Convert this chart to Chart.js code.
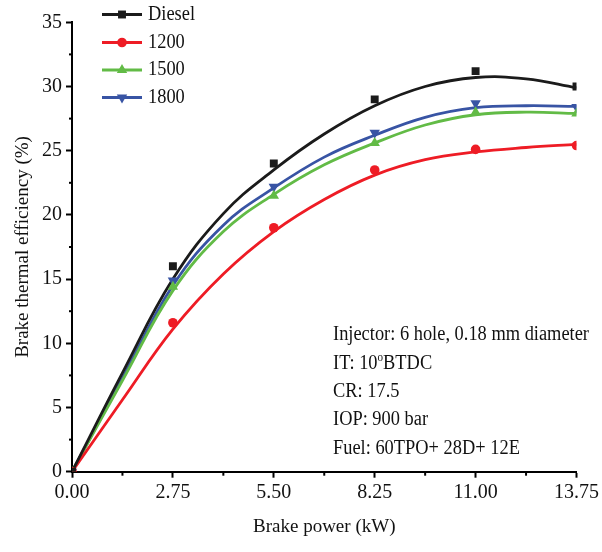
<!DOCTYPE html>
<html>
<head>
<meta charset="utf-8">
<script src="https://cdn.jsdelivr.net/npm/chart.js@4.4.1/dist/chart.umd.min.js"></script>
<style>
  html, body { margin: 0; padding: 0; background: #fff; }
  canvas { display: block; }
</style>
</head>
<body>
<canvas id="chart" width="602" height="552"></canvas>
<script>
// measured points
const brakePower = [0, 2.75, 5.5, 8.25, 11, 13.75];
const btDiesel = [0, 16.0, 24.0, 29.0, 31.2, 30.0];
const bt1200 = [0, 11.6, 19.0, 23.5, 25.1, 25.4];
const bt1500 = [0, 14.4, 21.5, 25.6, 28.0, 27.9];
const bt1800 = [0, 14.9, 22.2, 26.4, 28.7, 28.4];

// fitted curves
const fitPower = [0, 1.375, 2.75, 4.125, 5.5, 6.875, 8.25, 9.625, 11, 12.375, 13.75];
const fitDiesel = [0, 7.7, 15.0, 20.1, 23.5, 26.3, 28.5, 30.0, 30.7, 30.6, 29.9];
const fit1200 = [0, 5.6, 11.1, 15.4, 18.7, 21.2, 23.1, 24.3, 24.9, 25.25, 25.5];
const fit1500 = [0, 7.1, 14.1, 18.7, 21.6, 23.9, 25.6, 27.0, 27.8, 28.0, 27.9];
const fit1800 = [0, 7.3, 14.5, 19.2, 22.1, 24.5, 26.2, 27.6, 28.35, 28.5, 28.45];

const xTicks = [0, 2.75, 5.5, 8.25, 11, 13.75];
const yTicks = [0, 5, 10, 15, 20, 25, 30, 35];

const seriesNames = ['Diesel', '1200', '1500', '1800'];
const seriesColors = ['#1b1b1b', '#ee1c25', '#62bb46', '#3854a4'];
const seriesMarkers = ['rect', 'circle', 'triangle', 'triangle'];
const markerRotation = [0, 0, 0, 180];
const markerRadius = [5.6, 4.8, 6, 6];

const infoLines = ['Injector: 6 hole, 0.18 mm diameter', 'IT: 10', 'CR: 17.5', 'IOP: 900 bar', 'Fuel: 60TPO+ 28D+ 12E'];

const FONT = '"Liberation Serif", "Times New Roman", serif';
const INK = '#111';
const pts = (xs, ys) => xs.map((x, i) => ({ x: x, y: ys[i] }));

const measured = [btDiesel, bt1200, bt1500, bt1800];
const fits = [fitDiesel, fit1200, fit1500, fit1800];

const datasets = [];
measured.forEach((vals, i) => {
  datasets.push({
    type: 'scatter',
    label: seriesNames[i],
    data: pts(brakePower, vals),
    pointStyle: seriesMarkers[i],
    rotation: markerRotation[i],
    pointRadius: markerRadius[i],
    backgroundColor: seriesColors[i],
    borderColor: seriesColors[i],
    borderWidth: 0,
    showLine: false,
    order: 0
  });
});
fits.forEach((vals, i) => {
  datasets.push({
    type: 'line',
    label: seriesNames[i] + ' fit',
    data: pts(fitPower, vals),
    borderColor: seriesColors[i],
    borderWidth: 2.8,
    pointRadius: 0,
    tension: 0.4,
    fill: false,
    order: 1
  });
});

function drawMarker(ctx, style, x, y, r, rot, color) {
  ctx.save();
  ctx.fillStyle = color;
  ctx.translate(x, y);
  ctx.rotate(rot * Math.PI / 180);
  ctx.beginPath();
  if (style === 'rect') {
    const s = Math.SQRT1_2 * r;
    ctx.rect(-s, -s, 2 * s, 2 * s);
  } else if (style === 'circle') {
    ctx.arc(0, 0, r, 0, Math.PI * 2);
  } else {
    ctx.moveTo(0, -r);
    ctx.lineTo(r * Math.sin(Math.PI / 3), r * 0.5);
    ctx.lineTo(-r * Math.sin(Math.PI / 3), r * 0.5);
    ctx.closePath();
  }
  ctx.fill();
  ctx.restore();
}

// condensed serif text, like the figure
function text(ctx, str, x, y, size) {
  ctx.save();
  ctx.font = size + 'px ' + FONT;
  ctx.textBaseline = 'middle';
  ctx.textAlign = 'left';
  ctx.fillStyle = INK;
  ctx.translate(x, y);
  ctx.scale(0.92, 1);
  ctx.fillText(str, 0, 0);
  const w = ctx.measureText(str).width * 0.92;
  ctx.restore();
  return w;
}

const extras = {
  id: 'extras',
  afterDraw(chart) {
    const ctx = chart.ctx;
    const xs = chart.scales.x, ys = chart.scales.y;
    const area = chart.chartArea;

    // minor ticks
    ctx.save();
    ctx.strokeStyle = '#000';
    ctx.lineWidth = 2;
    for (let v = 2.5; v < 35; v += 5) {
      const py = ys.getPixelForValue(v);
      ctx.beginPath(); ctx.moveTo(area.left - 3, py); ctx.lineTo(area.left, py); ctx.stroke();
    }
    for (let i = 0; i < xTicks.length - 1; i++) {
      const px = xs.getPixelForValue((xTicks[i] + xTicks[i + 1]) / 2);
      ctx.beginPath(); ctx.moveTo(px, area.bottom); ctx.lineTo(px, area.bottom + 4); ctx.stroke();
    }
    ctx.restore();

    // legend
    const legendY = [14.5, 42.5, 70, 97.5];
    seriesNames.forEach((name, i) => {
      ctx.save();
      ctx.strokeStyle = seriesColors[i];
      ctx.lineWidth = 2.8;
      ctx.beginPath(); ctx.moveTo(102, legendY[i]); ctx.lineTo(142, legendY[i]); ctx.stroke();
      ctx.restore();
      drawMarker(ctx, seriesMarkers[i], 122, legendY[i], markerRadius[i], markerRotation[i], seriesColors[i]);
      text(ctx, name, 148, legendY[i], 20);
    });

    // conditions
    const infoY = [335, 363.5, 392, 420, 448.5];
    infoLines.forEach((line, i) => {
      const w = text(ctx, line, 333, infoY[i], 20);
      if (i === 1) {
        const w2 = text(ctx, 'o', 333 + w, infoY[i] - 6, 12);
        text(ctx, 'BTDC', 333 + w + w2, infoY[i], 20);
      }
    });
  }
};

new Chart(document.getElementById('chart'), {
  data: { datasets: datasets },
  plugins: [extras],
  options: {
    responsive: false,
    animation: false,
    devicePixelRatio: 1,
    layout: { padding: { top: 22.3, right: 25, left: 0, bottom: 0 } },
    plugins: { legend: { display: false }, tooltip: { enabled: false } },
    scales: {
      x: {
        type: 'linear',
        min: 0,
        max: 13.75,
        afterFit: s => { s.height = 552 - 471.7; },
        afterBuildTicks: s => { s.ticks = xTicks.map(v => ({ value: v })); },
        grid: { drawOnChartArea: false, tickLength: 6, tickWidth: 2, tickColor: '#000' },
        border: { display: true, width: 2, color: '#000' },
        ticks: {
          font: { family: FONT, size: 20 },
          color: INK,
          padding: 3,
          maxRotation: 0,
          callback: v => v.toFixed(2)
        },
        title: {
          display: true,
          text: 'Brake power (kW)',
          font: { family: FONT, size: 19 },
          color: INK,
          padding: { top: 0, bottom: 14 }
        }
      },
      y: {
        type: 'linear',
        min: 0,
        max: 35,
        afterFit: s => { s.width = 72; },
        afterBuildTicks: s => { s.ticks = yTicks.map(v => ({ value: v })); },
        grid: { drawOnChartArea: false, tickLength: 6, tickWidth: 2, tickColor: '#000' },
        border: { display: true, width: 2, color: '#000' },
        ticks: {
          font: { family: FONT, size: 20 },
          color: INK,
          padding: 4
        },
        title: {
          display: true,
          text: 'Brake thermal efficiency (%)',
          font: { family: FONT, size: 19 },
          color: INK,
          padding: { top: 12, bottom: 0 }
        }
      }
    }
  }
});
</script>
</body>
</html>
